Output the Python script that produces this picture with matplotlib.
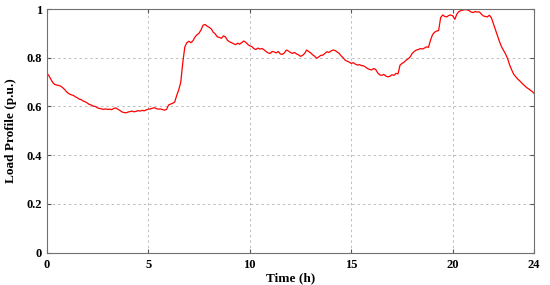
import numpy as np
import matplotlib
matplotlib.use('Agg')
import matplotlib.pyplot as plt

load = [
    0.738, 0.727, 0.712, 0.698, 0.690, 0.688, 0.686, 0.683, 0.676, 0.668,
    0.658, 0.652, 0.648, 0.646, 0.640, 0.636, 0.630, 0.628, 0.622, 0.619,
    0.614, 0.608, 0.606, 0.601, 0.600, 0.594, 0.592, 0.590, 0.588, 0.590,
    0.588, 0.589, 0.587, 0.592, 0.594, 0.589, 0.584, 0.578, 0.575, 0.574,
    0.577, 0.579, 0.581, 0.578, 0.580, 0.583, 0.581, 0.584, 0.582, 0.586,
    0.589, 0.590, 0.593, 0.595, 0.591, 0.589, 0.590, 0.587, 0.585, 0.588,
    0.606, 0.610, 0.613, 0.618, 0.645, 0.668, 0.700, 0.780, 0.845, 0.862,
    0.868, 0.862, 0.870, 0.885, 0.895, 0.901, 0.915, 0.934, 0.937, 0.930,
    0.925, 0.919, 0.905, 0.898, 0.886, 0.884, 0.880, 0.890, 0.886, 0.872,
    0.866, 0.862, 0.858, 0.854, 0.860, 0.856, 0.862, 0.869, 0.864, 0.855,
    0.849, 0.846, 0.838, 0.834, 0.840, 0.836, 0.838, 0.833, 0.826, 0.820,
    0.818, 0.826, 0.824, 0.820, 0.826, 0.816, 0.814, 0.820, 0.832, 0.828,
    0.822, 0.818, 0.822, 0.816, 0.812, 0.806, 0.810, 0.818, 0.832, 0.826,
    0.820, 0.812, 0.806, 0.798, 0.804, 0.810, 0.811, 0.818, 0.825, 0.822,
    0.828, 0.832, 0.830, 0.824, 0.818, 0.808, 0.800, 0.790, 0.786, 0.782,
    0.777, 0.780, 0.774, 0.770, 0.772, 0.768, 0.767, 0.762, 0.756, 0.752,
    0.750, 0.756, 0.752, 0.738, 0.730, 0.728, 0.732, 0.725, 0.722, 0.724,
    0.730, 0.728, 0.736, 0.734, 0.770, 0.777, 0.782, 0.790, 0.796, 0.804,
    0.818, 0.826, 0.832, 0.834, 0.838, 0.836, 0.840, 0.845, 0.843, 0.872,
    0.895, 0.905, 0.910, 0.912, 0.965, 0.976, 0.970, 0.968, 0.974, 0.976,
    0.972, 0.958, 0.980, 0.990, 0.994, 0.996, 0.998, 0.997, 0.994, 0.988,
    0.986, 0.990, 0.988, 0.989, 0.980, 0.972, 0.970, 0.968, 0.975, 0.964,
    0.940, 0.915, 0.890, 0.866, 0.845, 0.830, 0.815, 0.796, 0.770, 0.750,
    0.732, 0.722, 0.712, 0.705, 0.696, 0.688, 0.680, 0.674, 0.668, 0.662,
    0.654,
]
hours = np.linspace(0, 24, len(load))

x_ticks = [0, 5, 10, 15, 20, 24]
y_ticks = [0, 0.2, 0.4, 0.6, 0.8, 1]
y_labels = ['0', '0.2', '0.4', '0.6', '0.8', '1']

plt.rcParams['font.family'] = ['Liberation Serif', 'DejaVu Serif']
plt.rcParams['font.weight'] = 'bold'

fig = plt.figure(figsize=(5.5, 2.85), dpi=100)
ax = fig.add_axes([0.085, 0.114, 0.886, 0.854])

ax.plot(hours, load, color='#ff0000', lw=0.9)

ax.set_xlim(0, 24)
ax.set_ylim(0, 1)
ax.set_xticks(x_ticks)
ax.set_yticks(y_ticks)
ax.set_yticklabels(y_labels)
ax.tick_params(direction='in', top=True, right=True, length=3,
               labelsize=9, color='#555555')
ax.tick_params(axis='y', pad=3.5)
ax.tick_params(axis='x', pad=4.5)
for lab in ax.get_xticklabels() + ax.get_yticklabels():
    lab.set_fontweight('bold')
ax.grid(True, color='#bdbdbd', linestyle=(0, (2.5, 3)), lw=0.7)
for s in ax.spines.values():
    s.set_color('#707070')
    s.set_linewidth(0.8)

ax.set_xlabel('Time (h)', fontsize=9.5, fontweight='bold', labelpad=1)
ax.set_ylabel('Load Profile (p.u.)', fontsize=9.5, fontweight='bold')
ax.yaxis.set_label_coords(-0.061, 0.5)

fig.savefig('out.png', dpi=100)
